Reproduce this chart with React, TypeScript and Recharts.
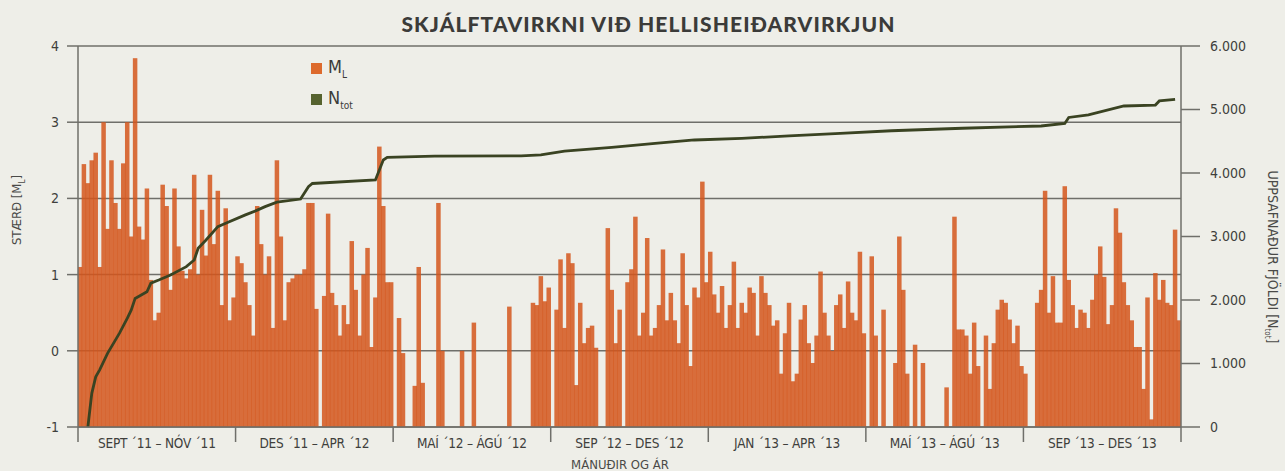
import React from "react";
import { Bar, CartesianGrid, ComposedChart, Line, XAxis, YAxis } from "recharts";

document.body.style.margin = "0";

const periodLabels = [
  "SEPT ´11 – NÓV ´11",
  "DES ´11 – APR ´12",
  "MAÍ ´12 – ÁGÚ ´12",
  "SEP ´12 – DES ´12",
  "JAN ´13 – APR ´13",
  "MAÍ ´13 – ÁGÚ ´13",
  "SEP ´13 – DES ´13",
];

// largest M_L in each time bin (40 bins per period), null = no event
const mlSepNov11 = [
  1.1, 2.45, 2.2, 2.5, 2.6, 1.1, 3.0, 1.6, 2.5, 1.94,
  1.6, 2.46, 3.0, 1.5, 3.84, 1.63, 1.46, 2.13, 0.93, 0.4,
  0.5, 2.18, 1.9, 0.8, 2.13, 1.37, 1.05, 0.95, 1.07, 2.31,
  1.0, 1.85, 1.25, 2.31, 1.4, 2.1, 0.6, 1.87, 0.4, 0.7,
];
const mlDesApr12 = [
  1.24, 1.15, 0.9, 0.6, 0.2, 1.9, 1.4, 1.0, 1.24, 0.3,
  2.5, 1.5, 0.4, 0.9, 0.95, 1.0, 1.0, 1.07, 1.94, 1.94,
  0.55, null, 0.72, 1.8, 0.76, 0.6, 0.2, 0.6, 0.35, 1.44,
  0.8, 0.2, 1.0, 1.35, 0.05, 0.7, 2.68, 1.9, 0.9, 0.9,
];
const mlMaiAgu12 = [
  null, 0.43, -0.03, null, null, -0.46, 1.1, -0.42, null, null,
  null, 1.94, 0.0, null, null, null, null, 0.0, null, null,
  0.37, null, null, null, null, null, null, null, null, 0.58,
  null, null, null, null, null, 0.63, 0.6, 0.98, 0.65, 0.83,
];
const mlSepDes12 = [
  null, 0.54, 1.2, 0.3, 1.28, 1.15, -0.45, 0.63, 0.1, 0.3,
  0.33, 0.04, null, null, 1.61, 0.8, 0.1, 0.54, null, 0.9,
  1.07, 1.76, 0.2, 0.5, 1.48, 0.2, 0.3, 0.6, 1.33, 0.4,
  0.76, 0.4, 0.1, 1.28, 0.6, -0.2, 0.83, 0.7, 2.22, 0.9,
];
const mlJanApr13 = [
  1.3, 0.74, 0.5, 0.85, 0.3, 0.6, 1.17, 0.3, 0.63, 0.5,
  0.83, 0.76, 0.2, 0.98, 0.76, 0.6, 0.33, 0.4, -0.3, 0.23,
  0.63, -0.4, -0.3, 0.41, 0.6, 0.1, -0.16, 0.2, 1.04, 0.5,
  0.2, 0.0, 0.6, 0.74, 0.3, 0.91, 0.5, 0.4, 1.3, 0.23,
];
const mlMaiAgu13 = [
  null, 1.24, 0.2, null, 0.54, null, null, -0.16, 1.5, 0.8,
  -0.3, null, 0.08, null, -0.16, null, null, null, null, null,
  -0.48, null, 1.76, 0.28, 0.28, 0.2, -0.3, 0.37, -0.2, null,
  0.2, -0.5, 0.1, 0.54, 0.67, 0.63, 0.41, 0.1, 0.33, -0.2,
];
const mlSepDes13 = [
  -0.3, null, null, 0.63, 0.8, 2.1, 0.5, 0.98, 0.37, 0.37,
  2.16, 0.93, 0.6, 0.3, 0.54, 0.5, 0.3, 0.67, 1.0, 1.37,
  0.97, 0.35, 0.6, 1.87, 1.55, 0.9, 0.6, 0.4, 0.05, 0.05,
  -0.5, 0.7, -0.9, 1.02, 0.67, 0.93, 0.63, 0.6, 1.59, 0.4,
];

// cumulative number of events, read at these bins
const ntotBin = [
  2, 3, 4, 5, 7, 10, 12, 13, 14, 17, 18, 20, 23, 27, 29, 30, 32, 35, 37, 42,
  45, 47, 50, 56, 58, 59, 75, 77, 78, 90, 112, 117, 123, 135, 146, 156, 168,
  180, 193, 206, 224, 244, 250, 251, 256, 265, 273, 274, 278,
];
const ntotValue = [
  0, 530, 790, 900, 1160, 1475, 1710, 1840, 2025, 2130, 2265, 2315, 2395,
  2525, 2630, 2815, 2945, 3155, 3210, 3340, 3415, 3470, 3540, 3590, 3785,
  3835, 3890, 4205, 4245, 4265, 4270, 4285, 4345, 4405, 4465, 4520, 4545,
  4585, 4625, 4665, 4705, 4740, 4780, 4875, 4915, 5055, 5070, 5135, 5160,
];

const leftTicks = [-1, 0, 1, 2, 3, 4];
const rightTicks = [0, 1000, 2000, 3000, 4000, 5000, 6000];

const BINS_PER_PERIOD = 40;
const magnitudes = [
  mlSepNov11, mlDesApr12, mlMaiAgu12, mlSepDes12, mlJanApr13, mlMaiAgu13, mlSepDes13,
].flat();
const BIN_COUNT = magnitudes.length;
const periodTicks = periodLabels.map((_, k) => k * BINS_PER_PERIOD).concat(BIN_COUNT);

const ntotByBin = new Map(ntotBin.map((b, k) => [b, ntotValue[k]]));
const data = magnitudes.map((m, i) => ({
  x: i + 0.5,
  ml: m,
  ntot: ntotByBin.has(i) ? ntotByBin.get(i) : null,
}));

const PLOT_W = 1103;
const PERIOD_PX = PLOT_W / periodLabels.length;
const AXIS = "#6f6f6a";
const COND = "'Liberation Sans Narrow', 'DejaVu Sans Condensed', 'Roboto', sans-serif";

const PeriodTick = (props: any) => {
  const { x, y, payload } = props;
  const idx = Math.round(payload.value / BINS_PER_PERIOD);
  if (idx >= periodLabels.length) return <g />;
  return (
    <text
      x={x + PERIOD_PX / 2}
      y={y}
      dy={4}
      textAnchor="middle"
      fill="#3f3f3c"
      fontSize={13.5}
      letterSpacing={-0.2}
      fontFamily={COND}
    >
      {periodLabels[idx]}
    </text>
  );
};

// bins sit edge to edge, so draw each bar a hair wider to avoid seams
const BinBar = (props: any) => {
  const { x, y, width, height, fill, fillOpacity } = props;
  if (height == null || isNaN(height)) return <g />;
  return (
    <rect
      x={x - 0.3}
      y={y}
      width={width + 0.6}
      height={height}
      fill={fill}
      fillOpacity={fillOpacity}
    />
  );
};

const fmtThousands = (v: number) => (v === 0 ? "0" : `${v / 1000}.000`);

export default function App() {
  return (
    <div
      style={{
        position: "relative",
        width: 1285,
        height: 471,
        background: "#eeeee8",
        overflow: "hidden",
        fontFamily: COND,
      }}
    >
      <div
        style={{
          position: "absolute",
          top: 11,
          left: 6,
          width: 1285,
          textAlign: "center",
          fontFamily: "Lato, sans-serif",
          fontWeight: 900,
          fontSize: 21,
          color: "#3b3b39",
          letterSpacing: 1.1,
        }}
      >
        SKJÁLFTAVIRKNI VIÐ HELLISHEIÐARVIRKJUN
      </div>

      <ComposedChart
        width={1285}
        height={471}
        data={data}
        margin={{ top: 46, right: 24, bottom: 4, left: 18 }}
      >
        <CartesianGrid
          yAxisId="left"
          vertical={false}
          stroke={AXIS}
          strokeWidth={1.5}
        />
        <XAxis
          type="number"
          dataKey="x"
          domain={[0, BIN_COUNT]}
          ticks={periodTicks}
          interval={0}
          allowDataOverflow
          height={40}
          tickSize={15}
          tickMargin={2}
          tick={<PeriodTick />}
          stroke={AXIS}
          strokeWidth={1.5}
        />
        <YAxis
          yAxisId="left"
          domain={[-1, 4]}
          ticks={leftTicks}
          interval={0}
          width={60}
          tickSize={11}
          tickMargin={8}
          stroke={AXIS}
          strokeWidth={1.5}
          tick={{ fill: "#3f3f3c", fontSize: 14, fontFamily: COND }}
        />
        <YAxis
          yAxisId="right"
          orientation="right"
          domain={[0, 6000]}
          ticks={rightTicks}
          interval={0}
          width={80}
          tickSize={19}
          tickMargin={10}
          stroke={AXIS}
          strokeWidth={1.5}
          tickFormatter={fmtThousands}
          tick={{ fill: "#3f3f3c", fontSize: 14, fontFamily: COND }}
        />
        <Bar
          yAxisId="left"
          dataKey={(d: any) => (d.ml == null ? null : [-1, d.ml])}
          fill="#d4561c"
          fillOpacity={0.85}
          barSize={3.9}
          shape={<BinBar />}
          isAnimationActive={false}
        />
        <Line
          yAxisId="right"
          dataKey="ntot"
          type="linear"
          stroke="#3a4322"
          strokeWidth={2.8}
          dot={false}
          connectNulls
          isAnimationActive={false}
        />
      </ComposedChart>

      <div style={{ position: "absolute", left: 311, top: 58, color: "#3b3b39", fontSize: 18 }}>
        <div style={{ display: "flex", alignItems: "center", height: 20 }}>
          <span style={{ width: 11, height: 11, background: "#dd6a2c", marginRight: 6 }} />
          <span>
            M<sub style={{ fontSize: 10 }}>L</sub>
          </span>
        </div>
        <div style={{ display: "flex", alignItems: "center", height: 20, marginTop: 11 }}>
          <span style={{ width: 11, height: 11, background: "#56632f", marginRight: 6 }} />
          <span>
            N<sub style={{ fontSize: 10 }}>tot</sub>
          </span>
        </div>
      </div>

      <div
        style={{
          position: "absolute",
          left: 18,
          top: 210,
          transform: "translate(-50%, -50%) rotate(-90deg)",
          whiteSpace: "nowrap",
          fontSize: 13,
          color: "#4a4a47",
        }}
      >
        STÆRÐ [M<sub style={{ fontSize: 8 }}>L</sub>]
      </div>

      <div
        style={{
          position: "absolute",
          left: 1272,
          top: 257,
          transform: "translate(-50%, -50%) rotate(90deg)",
          whiteSpace: "nowrap",
          fontSize: 14,
          color: "#4a4a47",
        }}
      >
        UPPSAFNAÐUR FJÖLDI [N<sub style={{ fontSize: 8 }}>tot</sub>]
      </div>

      <div
        style={{
          position: "absolute",
          left: 620,
          top: 464,
          transform: "translate(-50%, -50%)",
          whiteSpace: "nowrap",
          fontSize: 13,
          color: "#4a4a47",
        }}
      >
        MÁNUÐIR OG ÁR
      </div>
    </div>
  );
}
